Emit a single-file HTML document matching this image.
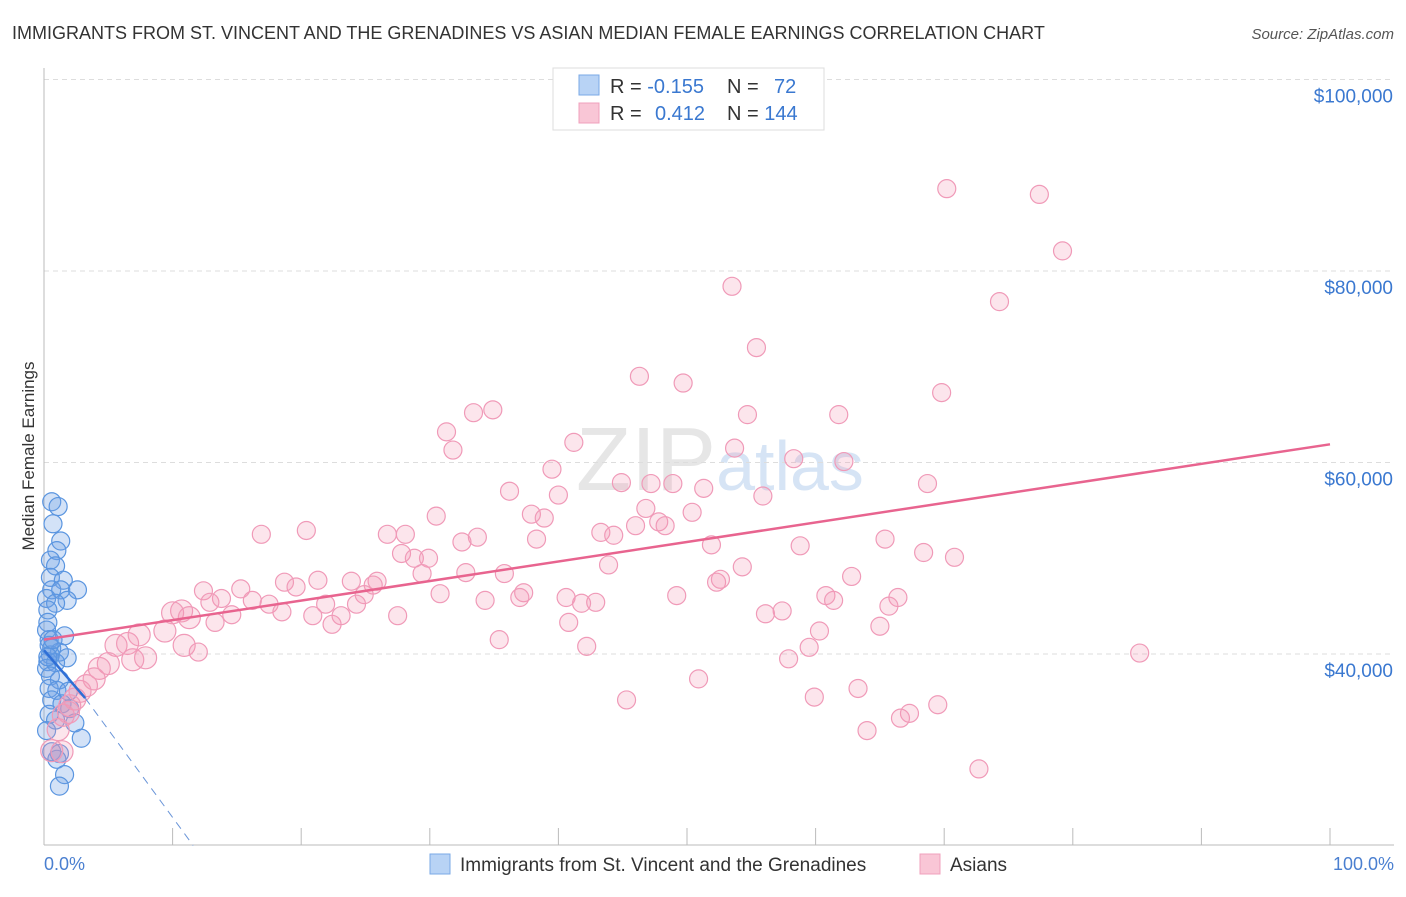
<!DOCTYPE html>
<html><head><meta charset="utf-8"><style>
body{margin:0;background:#fff;font-family:"Liberation Sans",sans-serif;}
svg text{font-family:"Liberation Sans",sans-serif;}
</style></head><body>
<svg id="chart" width="1406" height="892" xmlns="http://www.w3.org/2000/svg">
<text x="12" y="39" font-size="18" fill="#333">IMMIGRANTS FROM ST. VINCENT AND THE GRENADINES VS ASIAN MEDIAN FEMALE EARNINGS CORRELATION CHART</text>
<text x="1394" y="39" font-size="15" fill="#555" text-anchor="end" font-style="italic">Source: ZipAtlas.com</text>
<text x="720" y="490" font-size="90" fill="#e6e6e6" text-anchor="middle" font-family="Liberation Serif">ZIP<tspan fill="#d6e4f5" font-family="Liberation Sans" font-size="70">atlas</tspan></text>
<g id="grid"></g>
<line x1="44" y1="68" x2="44" y2="845" stroke="#bbb"/>
<line x1="44" y1="845" x2="1394" y2="845" stroke="#bbb"/>
<g id="ticks"></g>
<text transform="translate(34,456) rotate(-90)" font-size="17" fill="#333" text-anchor="middle">Median Female Earnings</text>
<text x="44" y="870" font-size="18" fill="#4a7fd0">0.0%</text>
<text x="1394" y="870" font-size="18" fill="#4a7fd0" text-anchor="end">100.0%</text>
<g id="points"></g>
<g id="trends"></g>
<g>
<rect x="553" y="68" width="271" height="62" fill="#fff" stroke="#ddd"/>
<rect x="579" y="75" width="20" height="20" fill="#b8d3f5" stroke="#7aa8e6"/>
<rect x="579" y="103" width="20" height="20" fill="#f9c6d6" stroke="#f0a0bc"/>
<text x="610" y="93" font-size="20" fill="#333">R = <tspan fill="#3a78d0">-0.155</tspan></text>
<text x="727" y="93" font-size="20" fill="#333">N = <tspan fill="#3a78d0" x="774">72</tspan></text>
<text x="610" y="120" font-size="20" fill="#333">R = <tspan fill="#3a78d0" x="655">0.412</tspan></text>
<text x="727" y="120" font-size="20" fill="#333">N = <tspan fill="#3a78d0">144</tspan></text>
</g>
<g>
<rect x="430" y="854" width="20" height="20" fill="#b8d3f5" stroke="#7aa8e6"/>
<text x="460" y="871" font-size="19" fill="#333">Immigrants from St. Vincent and the Grenadines</text>
<rect x="920" y="854" width="20" height="20" fill="#f9c6d6" stroke="#f0a0bc"/>
<text x="950" y="871" font-size="19" fill="#333">Asians</text>
</g>
</svg>
<script>
const yTicks=[40,60,80,100];
const yTickLabels=["$40,000","$60,000","$80,000","$100,000"];
const xTicks=[0,10,20,30,40,50,60,70,80,90,100];
const pinkX=[70.2,77.4,79.2,53.5,74.3,55.4,46.3,49.7,69.8,34.9,33.4,54.7,61.8,31.3,31.8,41.2,53.7,58.3,62.2,39.5,44.9,47.2,48.9,68.7,36.2,40.0,51.3,55.9,46.8,37.9,38.9,50.4,30.5,47.8,48.3,46.0,43.3,44.3,20.4,16.9,26.7,28.1,33.7,38.3,32.5,65.4,58.8,51.9,68.4,70.8,27.8,28.8,29.9,43.9,54.3,29.4,32.8,35.8,62.8,21.3,18.7,23.9,25.9,25.6,19.6,15.3,12.4,52.3,52.6,24.9,30.8,37.3,37.0,40.6,49.2,60.8,61.4,66.4,34.3,42.9,41.8,24.3,21.9,16.2,13.8,12.9,17.5,65.7,57.4,56.1,27.5,20.9,23.1,18.5,14.6,10.7,10.0,11.3,13.3,22.4,40.8,65.0,60.3,9.4,7.4,35.4,10.9,42.2,59.5,5.6,6.5,12.0,85.2,7.9,6.9,57.9,5.0,4.3,3.9,50.9,3.3,63.3,2.8,2.4,45.3,59.9,69.5,2.0,67.3,66.6,1.5,64.0,1.1,0.6,1.4,72.7,1.9];
const pinkY=[88.6,88.0,82.1,78.4,76.8,72.0,69.0,68.3,67.3,65.5,65.2,65.0,65.0,63.2,61.3,62.1,61.5,60.4,60.1,59.3,57.9,57.8,57.8,57.8,57.0,56.6,57.3,56.5,55.2,54.6,54.2,54.8,54.4,53.8,53.4,53.4,52.7,52.4,52.9,52.5,52.5,52.5,52.2,52.0,51.7,52.0,51.3,51.4,50.6,50.1,50.5,50.0,50.0,49.3,49.1,48.4,48.5,48.4,48.1,47.7,47.5,47.6,47.6,47.2,47.0,46.8,46.6,47.5,47.8,46.2,46.3,46.4,45.9,45.9,46.1,46.1,45.6,45.9,45.6,45.4,45.3,45.2,45.2,45.6,45.8,45.4,45.2,45.0,44.5,44.2,44.0,44.0,44.0,44.4,44.1,44.5,44.3,43.8,43.3,43.1,43.3,42.9,42.4,42.4,42.0,41.5,40.9,40.8,40.7,40.9,41.1,40.2,40.1,39.6,39.4,39.5,39.0,38.5,37.4,37.4,36.7,36.4,36.1,35.3,35.2,35.5,34.7,34.6,33.8,33.3,33.6,32.0,32.1,29.9,29.8,28.0,33.9];
const blueX=[0.6,1.1,0.7,1.3,1.0,0.5,0.9,0.5,1.5,0.6,1.3,2.6,0.2,1.8,0.9,0.3,0.3,0.2,1.6,0.4,0.6,1.2,0.5,1.8,0.3,0.9,0.2,0.5,1.2,0.4,1.0,1.9,0.6,1.4,2.0,0.4,0.9,2.4,0.2,2.9,0.6,1.2,1.0,1.6,1.2,0.4,0.3,0.7];
const blueY=[55.9,55.4,53.6,51.8,50.8,49.8,49.2,48.0,47.7,46.7,46.7,46.7,45.8,45.6,45.3,44.6,43.3,42.5,41.9,41.5,40.6,40.2,39.9,39.6,39.2,39.1,38.5,37.7,37.3,36.4,36.2,36.1,35.2,34.8,34.3,33.7,33.1,32.8,32.0,31.2,29.8,29.6,29.0,27.4,26.2,40.9,39.7,41.5];
const pinkTrend=[41.5,61.9];
const blueTrend=[40.4,35.4,20.0];
const blueTrendX=[0,3.2,11.6];
const NS="http://www.w3.org/2000/svg";
const sx=v=>44+v*12.86, sy=v=>1037-v*9.575;
function mk(tag,attrs,parent){const e=document.createElementNS(NS,tag);for(const k in attrs)e.setAttribute(k,attrs[k]);parent.appendChild(e);return e;}
const grid=document.getElementById('grid');
yTicks.forEach((t,i)=>{
 const l=mk('line',{x1:44,x2:1394,y1:sy(t),y2:sy(t),stroke:'#ddd','stroke-dasharray':'5,4'},grid);
 
 
 const tx=mk('text',{x:1393,y:sy(t)+23,'font-size':19,fill:'#3a78d0','text-anchor':'end'},grid);
 tx.textContent=yTickLabels[i];
 
 
});
const ticks=document.getElementById('ticks');
xTicks.forEach(t=>{
 const l=mk('line',{x1:sx(t),x2:sx(t),y1:828,y2:845,stroke:'#bbb'},ticks);
 
 
});
const pts=document.getElementById('points');
blueX.forEach((x,i)=>{
 const c=mk('circle',{cx:sx(x),cy:sy(blueY[i]),r:9,fill:'rgba(110,160,230,0.3)',stroke:'#5a95e0','stroke-width':1.2},pts);
 
 
});
pinkX.forEach((x,i)=>{
 const c=mk('circle',{cx:sx(x),cy:sy(pinkY[i]),r:x<12?11:9,fill:'rgba(245,150,180,0.25)',stroke:'#f09ab8','stroke-width':1.2},pts);
 
 
});
const tr=document.getElementById('trends');
const pt=mk('line',{x1:sx(0),y1:sy(pinkTrend[0]),x2:sx(100),y2:sy(pinkTrend[1]),stroke:'#e8648f','stroke-width':2.5},tr);


const bt=mk('line',{x1:sx(blueTrendX[0]),y1:sy(blueTrend[0]),x2:sx(blueTrendX[1]),y2:sy(blueTrend[1]),stroke:'#2f6fd6','stroke-width':2.5},tr);


const bd=mk('line',{x1:sx(blueTrendX[1]),y1:sy(blueTrend[1]),x2:sx(blueTrendX[2]),y2:sy(blueTrend[2]),stroke:'#6a95d8','stroke-width':1,'stroke-dasharray':'8,6'},tr);


</script>
</body></html>
